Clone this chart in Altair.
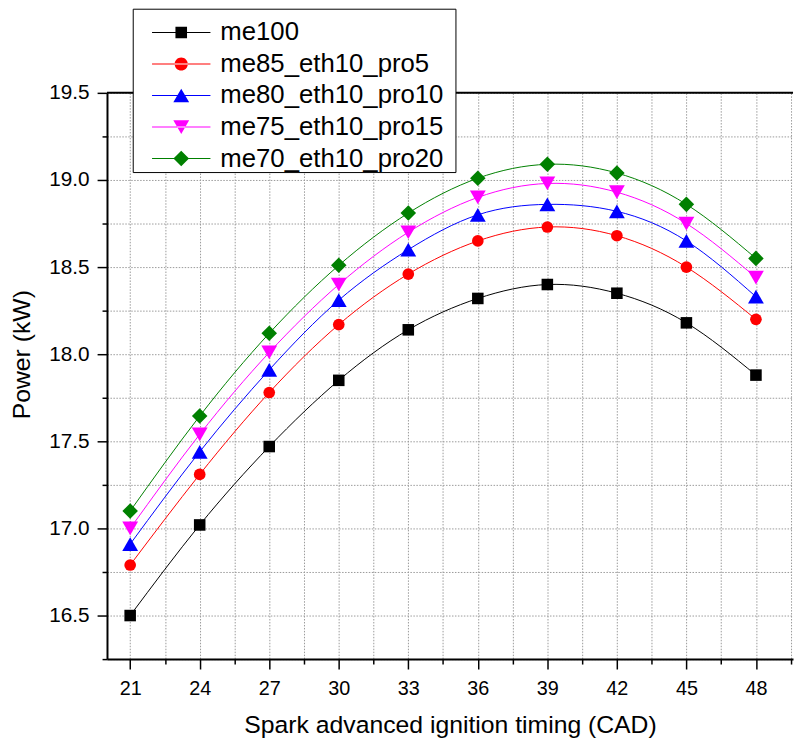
import altair as alt
import pandas as pd

# ---- data ----
timing = [21, 24, 27, 30, 33, 36, 39, 42, 45, 48]
me100 = [16.50, 17.02, 17.47, 17.85, 18.14, 18.32, 18.40, 18.35, 18.18, 17.88]
me85 = [16.79, 17.31, 17.78, 18.17, 18.46, 18.65, 18.73, 18.68, 18.50, 18.20]
me80 = [16.91, 17.44, 17.91, 18.31, 18.60, 18.80, 18.86, 18.82, 18.65, 18.33]
me75 = [17.00, 17.54, 18.01, 18.40, 18.70, 18.90, 18.98, 18.93, 18.75, 18.44]
me70 = [17.10, 17.645, 18.12, 18.51, 18.81, 19.01, 19.09, 19.04, 18.86, 18.55]

series_names = ["me100", "me85_eth10_pro5", "me80_eth10_pro10",
                "me75_eth10_pro15", "me70_eth10_pro20"]
series_values = [me100, me85, me80, me75, me70]
series_colors = ["#000000", "#ff0000", "#0000ff", "#ff00ff", "#008000"]
marker_shapes = ["square", "circle", "triangle-up", "triangle-down", "diamond"]
marker_sizes = [136, 139, 256, 256, 246]

x_domain = [20, 49.6]
y_domain = [16.25, 19.5]
x_ticks = [21, 22.5, 24, 25.5, 27, 28.5, 30, 31.5, 33, 34.5, 36, 37.5,
           39, 40.5, 42, 43.5, 45, 46.5, 48, 49.5]
y_ticks = [16.25, 16.5, 16.75, 17.0, 17.25, 17.5, 17.75, 18.0, 18.25,
           18.5, 18.75, 19.0, 19.25, 19.5]

rows = []
for name, vals in zip(series_names, series_values):
    for t, v in zip(timing, vals):
        rows.append({"timing": t, "power": v, "series": name})
df = pd.DataFrame(rows)

FONT = "Liberation Sans"

# legend symbols: line segment + marker (units of 10 px)
line_part = "M-2.95,-0.05H2.95V0.05H-2.95Z"
extent_part = "M27.7,0"
marker_parts = [
    "M-0.585,-0.585H0.585V0.585H-0.585Z",
    "M-0.665,0A0.665,0.665 0 1,0 0.665,0A0.665,0.665 0 1,0 -0.665,0Z",
    "M0,-0.69L0.8,0.69H-0.8Z",
    "M0,0.69L0.8,-0.69H-0.8Z",
    "M0,-0.785L0.785,0L0,0.785L-0.785,0Z",
]
legend_paths = [line_part + m + extent_part for m in marker_parts]

xscale = alt.Scale(domain=x_domain, nice=False, zero=False)
yscale = alt.Scale(domain=y_domain, nice=False, zero=False)
cscale = alt.Scale(domain=series_names, range=series_colors)
sscale = alt.Scale(domain=series_names, range=legend_paths)

x_axis = alt.Axis(
    values=x_ticks,
    labelExpr="datum.value % 3 === 0 ? datum.label : ''",
    grid=True, gridColor="#9a9a9a", gridDash=[1.5, 1.5], gridWidth=1,
    domainColor="black", domainWidth=2,
    tickColor="black", tickWidth=1.5,
    tickSize={"condition": {"test": "datum.value % 3 === 0", "value": 10}, "value": 5},
    labelFont=FONT, labelFontSize=20, labelColor="black", labelPadding=10,
    title="Spark advanced ignition timing (CAD)",
    titleFont=FONT, titleFontSize=25, titleFontWeight="normal", titleColor="black",
    titleY=54,
)
y_axis = alt.Axis(
    values=y_ticks,
    labelExpr="datum.value % 0.5 === 0 ? format(datum.value, '.1f') : ''",
    grid=True, gridColor="#9a9a9a", gridDash=[1.5, 1.5], gridWidth=1,
    domainColor="black", domainWidth=2,
    tickColor="black", tickWidth=1.5,
    tickSize={"condition": {"test": "datum.value % 0.5 === 0", "value": 10}, "value": 5},
    labelFont=FONT, labelFontSize=21, labelColor="black", labelPadding=8,
    title="Power (kW)",
    titleFont=FONT, titleFontSize=25, titleFontWeight="normal", titleColor="black",
    titleX=-73, titleY=264,
)

base = alt.Chart(df)
X = alt.X("timing:Q", scale=xscale, axis=x_axis)
Y = alt.Y("power:Q", scale=yscale, axis=y_axis)

# top frame line at the upper end of the y range
frame_top = alt.Chart(pd.DataFrame({"edge": [y_domain[1]]})).mark_rule(
    color="black", strokeWidth=2
).encode(y=alt.Y("edge:Q", scale=yscale, axis=y_axis))

line_layers = []
point_layers = []
for name, col, shp, sz in zip(series_names, series_colors, marker_shapes, marker_sizes):
    sub = base.transform_filter(alt.datum.series == name)
    line_layers.append(
        sub.mark_line(interpolate="natural", strokeWidth=1, color=col).encode(x=X, y=Y)
    )
    point_layers.append(
        sub.mark_point(filled=True, shape=shp, size=sz, opacity=1, color=col).encode(x=X, y=Y)
    )

leg = alt.Legend(
    title=" ", titleFontSize=2, titlePadding=9,
    orient="none", legendX=26, legendY=-85,
    fillColor="white", strokeColor="black", cornerRadius=0,
    padding=0, rowPadding=5.85,
    symbolSize=400, symbolStrokeWidth=0, symbolOffset=36,
    labelOffset=26.5, labelFont=FONT, labelFontSize=26, labelColor="black",
    labelLimit=400, zindex=5,
)
legend_layer = base.transform_filter("false").mark_point(filled=True, opacity=1).encode(
    x=X, y=Y,
    color=alt.Color("series:N", scale=cscale, legend=leg),
    shape=alt.Shape("series:N", scale=sscale, legend=leg),
)

chart = (
    alt.layer(frame_top, *line_layers, *point_layers, legend_layer)
    .properties(
        width=693, height=572,
        autosize=alt.AutoSizeParams(type="none"),
        padding={"left": 100, "top": 82, "right": 2, "bottom": 78},
    )
    .configure_view(stroke=None)
)

chart.save("out.html", embed_options={"renderer": "svg", "actions": False})
